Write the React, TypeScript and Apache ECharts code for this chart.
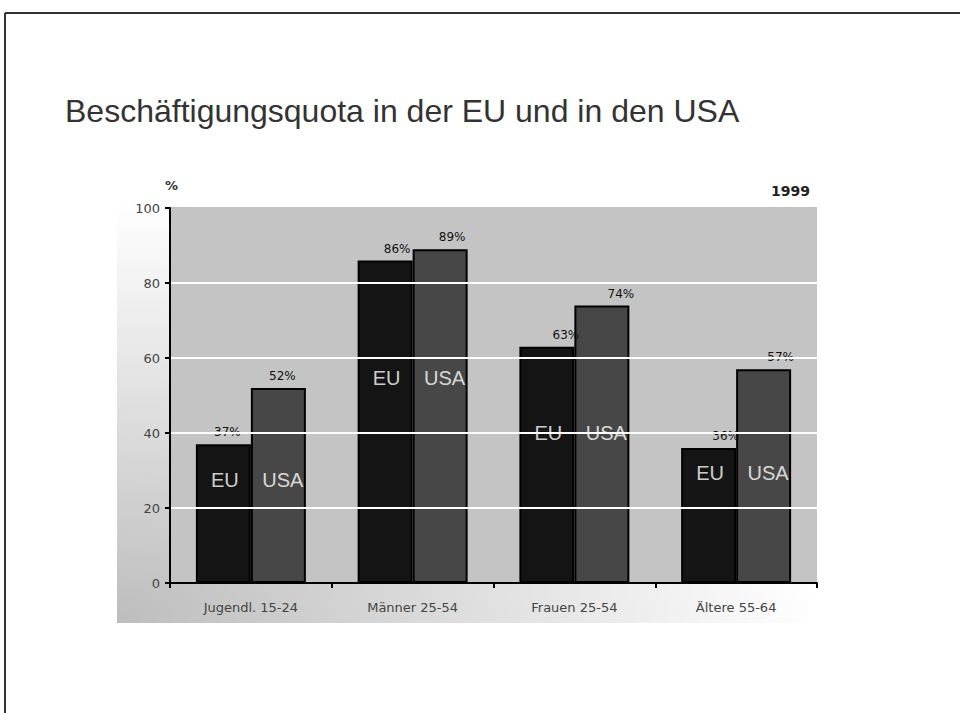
import React, { useEffect, useRef } from "react";
import * as echarts from "echarts";

const categories = ["Jugendl. 15-24", "Männer 25-54", "Frauen 25-54", "Ältere 55-64"];
const euValues = [37, 86, 63, 36];
const usaValues = [52, 89, 74, 57];
const yTicks = [0, 20, 40, 60, 80, 100];
// vertical level (in % units) of the white "EU" / "USA" tags inside the bars
const tagLevels = [27.5, 54.7, 40, 29.3];
// small horizontal shift of the value labels per category (px)
const labelShift = [4, 12, 19, 17];

const FONT = "Liberation Sans, Arial, sans-serif";
const SMALL = "DejaVu Sans, sans-serif";

export default function App() {
  const ref = useRef<HTMLDivElement>(null);
  useEffect(() => {
    if (!ref.current) return;
    const chart = echarts.init(ref.current, undefined, { renderer: "svg" });
    const valueLabel = (shift: number) => ({
      show: true,
      position: "top",
      distance: 6,
      offset: [shift, 0],
      formatter: "{c}%",
      fontSize: 12,
      fontFamily: SMALL,
      color: "#111",
    });
    chart.setOption({
      animation: false,
      backgroundColor: "#ffffff",
      textStyle: { fontFamily: FONT },
      graphic: [
        {
          type: "rect",
          z: -10,
          shape: { x: 117, y: 202, width: 703, height: 421 },
          style: {
            fill: new echarts.graphic.RadialGradient(0, 1, 1, [
              { offset: 0, color: "#bdbdbd" },
              { offset: 1, color: "#ffffff" },
            ]),
          },
        },
        { type: "line", shape: { x1: 5, y1: 13, x2: 960, y2: 13 }, style: { stroke: "#333", lineWidth: 2 } },
        { type: "line", shape: { x1: 5, y1: 13, x2: 5, y2: 713 }, style: { stroke: "#333", lineWidth: 2 } },
        {
          type: "text",
          left: 65,
          top: 95,
          style: { text: "Beschäftigungsquota in der EU und in den USA", fontSize: 32, fontFamily: FONT, fill: "#333" },
        },
        {
          type: "text",
          left: 165,
          top: 179,
          style: { text: "%", fontSize: 13, fontWeight: "bold", fontFamily: SMALL, fill: "#333" },
        },
        {
          type: "text",
          right: 150,
          top: 184,
          style: { text: "1999", fontSize: 14, fontWeight: "bold", fontFamily: SMALL, fill: "#222" },
        },
      ],
      grid: {
        left: 170,
        right: 143,
        top: 208,
        bottom: 130,
        show: true,
        backgroundColor: "#c4c4c4",
        borderWidth: 0,
        z: 2,
      },
      xAxis: {
        type: "category",
        data: categories,
        axisLine: { show: true, lineStyle: { color: "#000", width: 2 } },
        axisTick: { show: true, length: 5, lineStyle: { color: "#000", width: 2 } },
        axisLabel: { fontSize: 13, color: "#444", margin: 18, fontFamily: SMALL },
        z: 5,
      },
      yAxis: {
        type: "value",
        min: 0,
        max: 100,
        interval: 20,
        axisLine: { show: true, lineStyle: { color: "#000", width: 2 } },
        axisTick: { show: true, length: 5, lineStyle: { color: "#000", width: 2 } },
        axisLabel: {
          fontSize: 13,
          color: "#444",
          margin: 10,
          fontFamily: SMALL,
          formatter: (v: number) => (yTicks.includes(v) ? String(v) : ""),
        },
        splitLine: {
          show: true,
          lineStyle: { color: ["#000", "#fff", "#fff", "#fff", "#fff", "#c4c4c4"], width: 2 },
        },
        z: 5,
      },
      series: [
        {
          name: "EU",
          type: "bar",
          barGap: "0%",
          barCategoryGap: "32%",
          z: 3,
          itemStyle: { color: "#141414", borderColor: "#000", borderWidth: 2 },
          data: euValues.map((v, i) => ({ value: v, label: valueLabel(labelShift[i]) })),
        },
        {
          name: "USA",
          type: "bar",
          barGap: "0%",
          barCategoryGap: "32%",
          z: 3,
          itemStyle: { color: "#474747", borderColor: "#000", borderWidth: 2 },
          data: usaValues.map((v, i) => ({ value: v, label: valueLabel(labelShift[i]) })),
        },
        {
          name: "EU-tag",
          type: "scatter",
          symbolSize: 1,
          z: 10,
          itemStyle: { color: "rgba(0,0,0,0)" },
          label: {
            show: true,
            position: "inside",
            offset: [-26, 0],
            formatter: "EU",
            fontSize: 20,
            fontFamily: FONT,
            color: "#fff",
          },
          data: tagLevels.map((v, i) => [i, v]),
        },
        {
          name: "USA-tag",
          type: "scatter",
          symbolSize: 1,
          z: 10,
          itemStyle: { color: "rgba(0,0,0,0)" },
          label: {
            show: true,
            position: "inside",
            offset: [32, 0],
            formatter: "USA",
            fontSize: 20,
            fontFamily: FONT,
            color: "#fff",
          },
          data: tagLevels.map((v, i) => [i, v]),
        },
      ],
    });
    return () => chart.dispose();
  }, []);
  return <div ref={ref} style={{ position: "absolute", left: 0, top: 0, width: 960, height: 713 }} />;
}
